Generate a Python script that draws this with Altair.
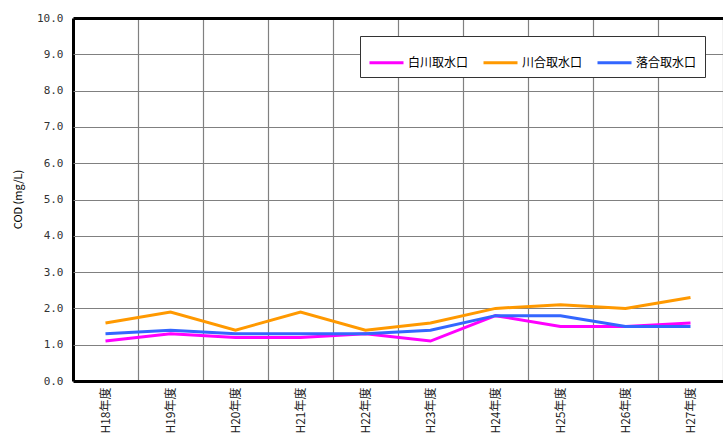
import altair as alt
import pandas as pd

years = ["H18年度", "H19年度", "H20年度", "H21年度", "H22年度",
         "H23年度", "H24年度", "H25年度", "H26年度", "H27年度"]
sites = ["白川取水口", "川合取水口", "落合取水口"]
colors = ["#FF00FF", "#FF9900", "#3366FF"]

shirakawa = [1.1, 1.3, 1.2, 1.2, 1.3, 1.1, 1.8, 1.5, 1.5, 1.6]
kawai = [1.6, 1.9, 1.4, 1.9, 1.4, 1.6, 2.0, 2.1, 2.0, 2.3]
ochiai = [1.3, 1.4, 1.3, 1.3, 1.3, 1.4, 1.8, 1.8, 1.5, 1.5]

rows = []
for site, vals in zip(sites, [shirakawa, kawai, ochiai]):
    for y, v in zip(years, vals):
        rows.append({"year": y, "site": site, "value": v})
df = pd.DataFrame(rows)

yticks = [float(i) for i in range(11)]

x_edge = "datum.index < 0"
y_edge = "datum.value == 0 || datum.value == 10"

chart = alt.Chart(df).mark_line(strokeWidth=3).encode(
    x=alt.X("year:N", sort=years, bandPosition=0.5,
            scale=alt.Scale(type="band", paddingInner=0, paddingOuter=0),
            axis=alt.Axis(title=None, labelAngle=270, tickBand="extent", ticks=False,
                          domain=False, grid=True,
                          gridColor={"condition": {"test": x_edge, "value": "#000000"},
                                     "value": "#808080"},
                          gridWidth={"condition": {"test": x_edge, "value": 3},
                                     "value": 1.2},
                          labelFont="Noto Sans CJK JP", labelFontSize=12,
                          labelColor="#222222", labelPadding=6)),
    y=alt.Y("value:Q", scale=alt.Scale(domain=[0, 10], nice=False),
            axis=alt.Axis(title="COD (mg/L)", values=yticks, format=".1f", ticks=False,
                          domain=False, grid=True,
                          gridColor={"condition": {"test": y_edge, "value": "#000000"},
                                     "value": "#808080"},
                          gridWidth={"condition": {"test": y_edge, "value": 3},
                                     "value": 1.2},
                          labelFont="DejaVu Sans Mono", labelFontSize=11,
                          labelColor="#333333", labelPadding=10,
                          titleFont="Noto Sans CJK JP", titleFontSize=11,
                          titleFontWeight="normal", titleColor="#000000",
                          titleX=-50, titleY=181)),
    color=alt.Color("site:N", scale=alt.Scale(domain=sites, range=colors),
                    legend=alt.Legend(title=None, orient="none", legendX=287, legendY=18,
                                      direction="horizontal", columns=3,
                                      symbolType="stroke", symbolSize=1156,
                                      symbolStrokeWidth=3, labelFont="Noto Sans CJK JP",
                                      labelFontSize=12, labelColor="#000000",
                                      labelOffset=3, columnPadding=8, padding=8,
                                      fillColor="#FFFFFF", strokeColor="#333333",
                                      cornerRadius=0)),
).properties(
    width=650, height=363,
    autosize=alt.AutoSizeParams(type="none"),
    padding={"left": 73, "top": 18, "right": 0, "bottom": 53},
).configure_view(stroke="#000000", strokeWidth=3).configure(background="#FFFFFF")

chart.save("out.html", embed_options={"renderer": "svg", "actions": False})
